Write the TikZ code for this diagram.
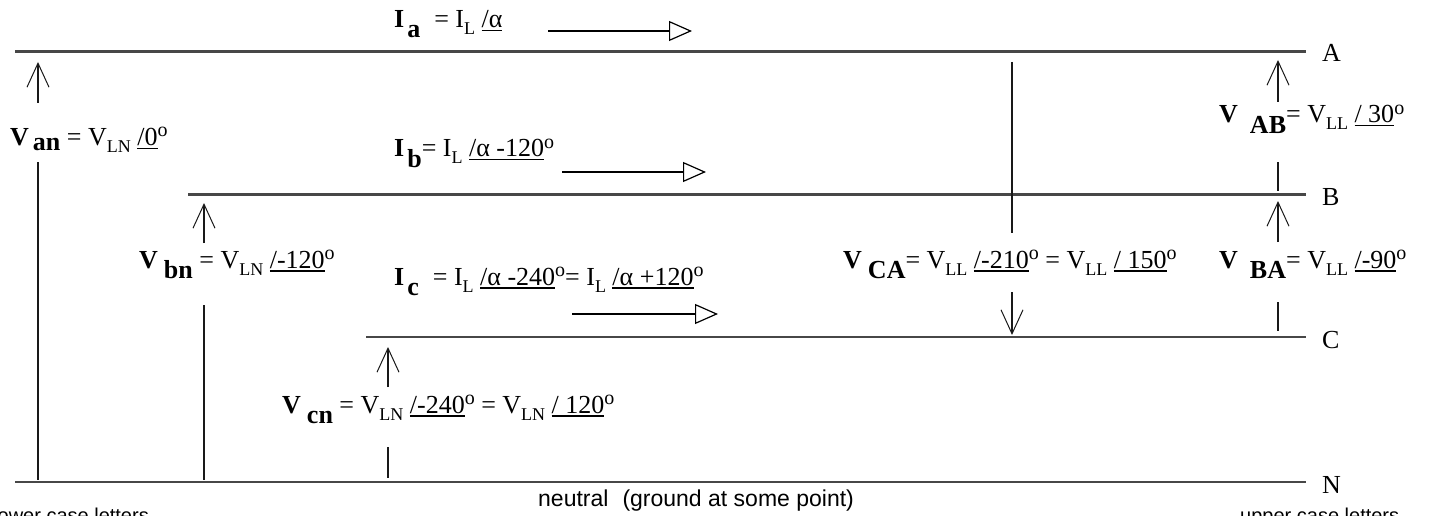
\documentclass[tikz,border=0pt]{standalone}
\usepackage{fontspec}
\setmainfont{Liberation Serif}
\setsansfont{Liberation Sans}
\usetikzlibrary{arrows.meta}
\newsavebox\ulbox
\newcommand\Ul[1]{\sbox\ulbox{#1}\rlap{\rule[-3.5pt]{\wd\ulbox}{1.6pt}}\usebox\ulbox}
\newcommand\Bs[2][10pt]{\raisebox{-#1}{\bfseries #2}}
\newcommand\Ls[1]{\raisebox{-7pt}{\fontsize{18}{18}\selectfont #1}}
\newcommand\Dg{\raisebox{9pt}{\fontsize{20}{20}\selectfont o}}
\begin{document}
\begin{tikzpicture}[x=1pt,y=-1pt,
  wire/.style={line width=2.4pt, draw=black!72},
  vline/.style={line width=1.8pt, draw=black!90},
  vhead/.style={-{Straight Barb[length=24pt,width=22pt,line width=1pt]}},
  ihead/.style={line width=1.4pt,-{Triangle[open,length=23pt,width=20pt,line width=1.2pt]}},
  lbl/.style={anchor=base west, inner sep=0pt, font=\fontsize{26}{30}\selectfont},
  note/.style={anchor=base west, inner sep=0pt, font=\sffamily\fontsize{20}{24}\selectfont}]
\useasboundingbox (0,0) rectangle (1429,516);
% phase lines
\coordinate (A1) at (15,51.5);  \coordinate (A2) at (1306,51.5);
\coordinate (B1) at (188,194.5); \coordinate (B2) at (1306,194.5);
\coordinate (C1) at (366,337);  \coordinate (C2) at (1306,337);
\coordinate (N1) at (15,482);   \coordinate (N2) at (1306,482);
\draw[wire] (A1) -- (A2);
\draw[wire] (B1) -- (B2);
\draw[wire] (C1) -- (C2);
\draw[wire] (N1) -- (N2);
\node[lbl] (lA) at (1322,62) {A};
\node[lbl] (lB) at (1322,205) {B};
\node[lbl] (lC) at (1322,348) {C};
\node[lbl] (lN) at (1322,493) {N};
% line-to-neutral voltages
\coordinate (van1) at (38,103); \coordinate (van2) at (38,62);
\coordinate (van3) at (38,162); \coordinate (van4) at (38,480);
\draw[vline,vhead] (van1) -- (van2);
\draw[vline] (van3) -- (van4);
\coordinate (vbn1) at (204,243); \coordinate (vbn2) at (204,203);
\coordinate (vbn3) at (204,305); \coordinate (vbn4) at (204,480);
\draw[vline,vhead] (vbn1) -- (vbn2);
\draw[vline] (vbn3) -- (vbn4);
\coordinate (vcn1) at (388,387); \coordinate (vcn2) at (388,347);
\coordinate (vcn3) at (388,447); \coordinate (vcn4) at (388,478);
\draw[vline,vhead] (vcn1) -- (vcn2);
\draw[vline] (vcn3) -- (vcn4);
% line-to-line voltages
\coordinate (vab1) at (1278,102); \coordinate (vab2) at (1278,60);
\coordinate (vab3) at (1278,162); \coordinate (vab4) at (1278,191);
\draw[vline,vhead] (vab1) -- (vab2);
\draw[vline] (vab3) -- (vab4);
\coordinate (vba1) at (1278,242); \coordinate (vba2) at (1278,201);
\coordinate (vba3) at (1278,302); \coordinate (vba4) at (1278,331);
\draw[vline,vhead] (vba1) -- (vba2);
\draw[vline] (vba3) -- (vba4);
\coordinate (vca1) at (1012,62);  \coordinate (vca2) at (1012,233);
\coordinate (vca3) at (1012,292); \coordinate (vca4) at (1012,335);
\draw[vline] (vca1) -- (vca2);
\draw[vline,vhead] (vca3) -- (vca4);
% currents
\coordinate (ia1) at (548,31);  \coordinate (ia2) at (692,31);
\coordinate (ib1) at (562,172); \coordinate (ib2) at (706,172);
\coordinate (ic1) at (572,314); \coordinate (ic2) at (718,314);
\draw[ihead] (ia1) -- (ia2);
\draw[ihead] (ib1) -- (ib2);
\draw[ihead] (ic1) -- (ic2);
% labels
\node[lbl] (tIa) at (394,28) {{\bfseries I}\hspace{3pt}\Bs{a}\hspace{14pt}= I\Ls{L} \Ul{/α}};
\node[lbl] (tIb) at (394,157) {{\bfseries I}\hspace{3pt}\Bs{b}= I\Ls{L} \Ul{/α -120}\Dg};
\node[lbl] (tIc) at (394,285) {{\bfseries I}\hspace{3pt}\Bs{c}\hspace{14pt}= I\Ls{L} \Ul{/α -240}\Dg= I\Ls{L} \Ul{/α +120}\Dg};
\node[lbl] (tVan) at (10,146) {{\bfseries V}\hspace{4pt}\Bs[5pt]{an} = V\Ls{LN} \Ul{/0}\Dg};
\node[lbl] (tVbn) at (139,268) {{\bfseries V}\hspace{6pt}\Bs{bn} = V\Ls{LN} \Ul{/-120}\Dg};
\node[lbl] (tVcn) at (282,413) {{\bfseries V}\hspace{6pt}\Bs{cn} = V\Ls{LN} \Ul{/-240}\Dg\ = V\Ls{LN} \Ul{/ 120}\Dg};
\node[lbl] (tVCA) at (843,268) {{\bfseries V}\hspace{6pt}\Bs{CA}= V\Ls{LL} \Ul{/-210}\Dg\ = V\Ls{LL} \Ul{/ 150}\Dg};
\node[lbl] (tVBA) at (1219,268) {{\bfseries V}\hspace{12pt}\Bs{BA}= V\Ls{LL} \Ul{/-90}\Dg};
\node[lbl] (tVAB) at (1219,123) {{\bfseries V}\hspace{12pt}\Bs{AB}= V\Ls{LL} \Ul{/ 30}\Dg};
% notes
\node[note,font=\sffamily\fontsize{23}{26}\selectfont] (neutral) at (538,506) {neutral\hspace{14pt}(ground at some point)};
\node[note] (lower) at (-7,522) {lower case letters};
\node[note] (upper) at (1240,522) {upper case letters};
\end{tikzpicture}
\end{document}
